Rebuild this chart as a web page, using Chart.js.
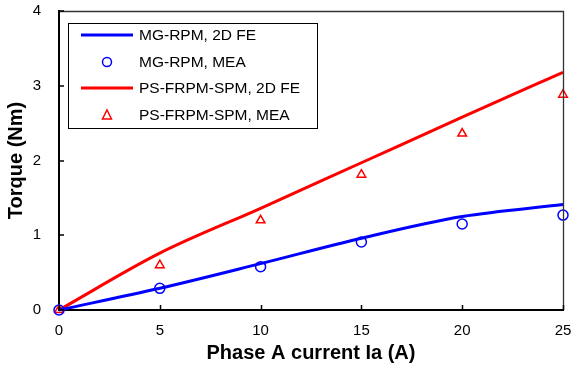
<!DOCTYPE html>
<html><head><meta charset="utf-8">
<script src="https://cdn.jsdelivr.net/npm/chart.js@4/dist/chart.umd.min.js"></script>
<style>html,body{margin:0;padding:0;background:#fff}#wrap{width:571px;height:374px}</style>
</head><body><div id="wrap"><canvas id="c" width="571" height="374"></canvas></div>
<script>
const currents = [0, 5, 10, 15, 20, 25];
const mgFE  = [0, 0.29, 0.62, 0.96, 1.25, 1.41];
const mgMEA = [0, 0.29, 0.58, 0.91, 1.15, 1.27];
const psFE  = [0, 0.76, 1.36, 1.97, 2.58, 3.18];
const psMEA = [0, 0.60, 1.20, 1.81, 2.36, 2.88];
const xTicks = [0, 5, 10, 15, 20, 25];
const yTicks = [0, 1, 2, 3, 4];
const labels = ['MG-RPM, 2D FE', 'MG-RPM, MEA', 'PS-FRPM-SPM, 2D FE', 'PS-FRPM-SPM, MEA'];

const pts = arr => arr.map((v, i) => ({x: currents[i], y: v}));
const FONT = 'Arial, "Liberation Sans", sans-serif';

const framePlugin = {
  id: 'frame',
  afterDraw(chart) {
    const {ctx, chartArea: a, scales: {x, y}} = chart;
    ctx.save();
    // top & right border
    ctx.strokeStyle = '#333';
    ctx.lineWidth = 1.3;
    ctx.beginPath();
    ctx.moveTo(a.left, a.top + 0.5); ctx.lineTo(a.right + 0.5, a.top + 0.5); ctx.lineTo(a.right + 0.5, a.bottom);
    ctx.stroke();
    // inward ticks
    ctx.strokeStyle = '#000';
    ctx.lineWidth = 1.5;
    ctx.beginPath();
    xTicks.forEach(t => { const px = Math.round(x.getPixelForValue(t)) + 0.5; ctx.moveTo(px, a.bottom); ctx.lineTo(px, a.bottom - 5); });
    yTicks.forEach(t => { const py = Math.round(y.getPixelForValue(t)); ctx.moveTo(a.left, py); ctx.lineTo(a.left + 5, py); });
    ctx.stroke();
    // legend
    const lx = 68, ly = 23, lw = 249, lh = 105;
    ctx.fillStyle = '#fff';
    ctx.fillRect(lx, ly, lw, lh);
    ctx.strokeStyle = '#000';
    ctx.lineWidth = 1;
    ctx.strokeRect(lx + 0.5, ly + 0.5, lw, lh);
    const rows = [35, 62, 88, 115];
    chart.data.datasets.forEach((ds, i) => {
      const cy = rows[i];
      ctx.strokeStyle = ds.borderColor;
      if (ds.showLine) {
        ctx.lineWidth = 3;
        ctx.beginPath(); ctx.moveTo(81, cy); ctx.lineTo(133, cy); ctx.stroke();
      } else {
        ctx.lineWidth = 1.5;
        ctx.beginPath();
        if (ds.pointStyle === 'circle') { ctx.arc(107, cy, 4.5, 0, Math.PI * 2); }
        else { ctx.moveTo(107, cy - 5); ctx.lineTo(111.5, cy + 4); ctx.lineTo(102.5, cy + 4); ctx.closePath(); }
        ctx.stroke();
      }
      ctx.fillStyle = '#000';
      ctx.font = '15.5px ' + FONT;
      ctx.textBaseline = 'middle';
      ctx.textAlign = 'left';
      ctx.fillText(ds.label, 139, cy + 1);
    });
    ctx.restore();
  }
};

new Chart(document.getElementById('c'), {
  type: 'scatter',
  data: {
    datasets: [
      {label: labels[0], data: pts(mgFE), showLine: true, borderColor: '#0000ff', borderWidth: 3, pointRadius: 0, cubicInterpolationMode: 'monotone', clip: false},
      {label: labels[1], data: pts(mgMEA), showLine: false, borderColor: '#0000ff', backgroundColor: 'rgba(0,0,0,0)', pointStyle: 'circle', pointRadius: 5, pointBorderWidth: 1.5, clip: false},
      {label: labels[2], data: pts(psFE), showLine: true, borderColor: '#ff0000', borderWidth: 3, pointRadius: 0, cubicInterpolationMode: 'monotone', clip: false},
      {label: labels[3], data: pts(psMEA), showLine: false, borderColor: '#ff0000', backgroundColor: 'rgba(0,0,0,0)', pointStyle: 'triangle', pointRadius: 5, pointBorderWidth: 1.5, clip: false}
    ]
  },
  options: {
    responsive: false,
    animation: false,
    layout: {padding: {left: 0, right: 8, top: 11, bottom: 0}},
    plugins: {legend: {display: false}, tooltip: {enabled: false}},
    scales: {
      x: {
        type: 'linear', min: 0, max: 25,
        afterBuildTicks: s => { s.ticks = xTicks.map(v => ({value: v})); },
        afterFit: s => { s.height = 64; s.paddingLeft = 0; s.paddingRight = 0; },
        grid: {display: false, drawTicks: false},
        border: {display: true, color: '#000', width: 2},
        ticks: {color: '#000', font: {size: 15, family: FONT}, padding: 12, maxRotation: 0},
        title: {display: true, text: 'Phase A current Ia (A)', color: '#000', font: {size: 20, weight: 'bold', family: FONT}, padding: {top: 0, bottom: 9}}
      },
      y: {
        min: 0, max: 4,
        afterBuildTicks: s => { s.ticks = yTicks.map(v => ({value: v})); },
        afterFit: s => { s.width = 59; s.paddingTop = 0; s.paddingBottom = 0; },
        grid: {display: false, drawTicks: false},
        border: {display: true, color: '#000', width: 2},
        ticks: {color: '#000', font: {size: 15, family: FONT}, padding: 18},
        title: {display: true, text: 'Torque (Nm)', color: '#000', font: {size: 20, weight: 'bold', family: FONT}, padding: {top: 4, bottom: 0}}
      }
    }
  },
  plugins: [framePlugin]
});
</script></body></html>
